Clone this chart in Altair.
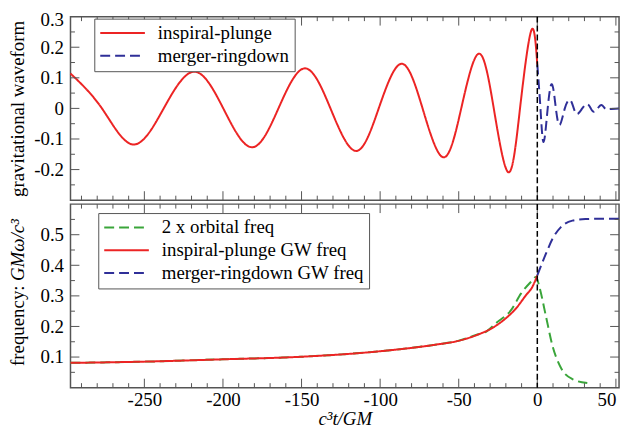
import altair as alt
import pandas as pd

# ---------------- data ----------------
# top panel: gravitational waveform
insp_t = [-297, -277, -257.2, -237.7, -218.3, -199.8, -181.6, -164.7, -147.9, -131.6,
          -115.4, -100.9, -86.4, -73.0, -59.7, -48.4, -37.2, -27.7, -18.3, -11.0, -3.8, 0]
insp_h = [0.114, 0, -0.118, 0, 0.120, 0, -0.127, 0, 0.131, 0,
          -0.139, 0, 0.146, 0, -0.160, 0, 0.179, 0, -0.209, 0, 0.255, 0.143]
ring_t = [0, 2.0, 4.0, 6.6, 9.3, 11.8, 14.3, 17.5, 20.8, 23.2, 25.5, 28.6, 31.8, 34.0,
          36.0, 38.4, 40.8, 43.0, 45.4, 52]
ring_h = [0.143, 0, -0.110, 0, 0.079, 0, -0.054, 0, 0.028, 0, -0.018, 0, 0.014, 0,
          -0.011, 0, 0.011, 0, -0.002, 0]

# bottom panel: frequency
orb_t = [-297, -250, -200, -150, -100, -64, -51, -39, -32, -26, -16.6, -10.3, -4, -0.8,
         1.3, 5.5, 9.7, 15, 22.3, 31.8]
orb_f = [0.081, 0.085, 0.0926, 0.101, 0.119, 0.141, 0.152, 0.172, 0.185, 0.212, 0.254,
         0.308, 0.346, 0.362, 0.33, 0.233, 0.136, 0.065, 0.028, 0.015]
ip_t = [-297, -250, -200, -150, -100, -64, -51, -39, -28, -20, -13.4, -7.1, -3.3, 0]
ip_f = [0.081, 0.085, 0.0926, 0.101, 0.119, 0.141, 0.152, 0.171, 0.197, 0.227, 0.26,
        0.303, 0.328, 0.367]
mr_t = [0, 5.5, 9.7, 15, 22.3, 30.7, 40, 52]
mr_f = [0.367, 0.438, 0.487, 0.525, 0.546, 0.551, 0.552, 0.552]

top_series = ["inspiral-plunge", "merger-ringdown"]
bot_series = ["2 x orbital freq", "inspiral-plunge GW freq", "merger-ringdown GW freq"]

x_major = [-250, -200, -150, -100, -50, 0, 50]
x_minor = [-290, -280, -270, -260, -240, -230, -220, -210, -190, -180, -170, -160,
           -140, -130, -120, -110, -90, -80, -70, -60, -40, -30, -20, -10, 10, 20, 30, 40]
top_y_major = [-0.2, -0.1, 0, 0.1, 0.2]
top_y_minor = [-0.25, -0.15, -0.05, 0.05, 0.15, 0.25]
top_y_labels = [-0.2, -0.1, 0.0, 0.1, 0.2, 0.3]
bot_y_major = [0.1, 0.2, 0.3, 0.4, 0.5]
bot_y_minor = [0.05, 0.15, 0.25, 0.35, 0.45, 0.55]
vline_t = [0]
freq_title_plain = ["frequency:"]
freq_title_italic = ["GM\u03c9/c\u00b3"]

# ---------------- style ----------------
W, H = 553, 185
RED, BLUE, GREEN = "#ec2424", "#2f2f98", "#3aa53a"
FRAME = "#555555"
FONT = "Liberation Serif"
FS = 19
MAJ, MIN = 9, 4.5
Y_EXT, Y_TPAD = 38, 5

xs = alt.Scale(domain=[-297, 52], nice=False, zero=False)
ys_top = alt.Scale(domain=[-0.3, 0.3], nice=False, zero=False)
ys_bot = alt.Scale(domain=[0, 0.6], nice=False, zero=False)

fix_minus = "replace(datum.label, '\u2212', '-')"


def y_axis(values, title, flush):
    kw = dict(values=values, format=".1~f", labelExpr=fix_minus, title=title,
              ticks=False, domain=False, grid=False, labelPadding=7,
              minExtent=Y_EXT, maxExtent=Y_EXT, titlePadding=Y_TPAD, labelOverlap=False)
    if flush:
        kw.update(labelFlush=True, labelFlushOffset=6)
    else:
        kw.update(labelFlush=False)
    return alt.Axis(**kw)


X_AXIS_BOTTOM = alt.Axis(values=x_major, format="d", labelExpr=fix_minus,
                         title="c\u00b3t/GM", titleFontStyle="italic", ticks=False,
                         domain=False, grid=False, labelPadding=3, titlePadding=0,
                         labelFlush=False, labelOverlap=False,
                         labelAlign={"condition": {"test": "datum.value >= 50",
                                                   "value": "right"},
                                     "value": "center"})


def tick_layers(yscale, y_major, y_minor, y_field, xaxis, yaxis):
    layers = []
    for vals, L in ((x_major, MAJ), (x_minor, MIN)):
        d = alt.Chart(pd.DataFrame({"t": vals})).mark_rule(color=FRAME, strokeWidth=1)
        xe = alt.X("t:Q", scale=xs, axis=xaxis)
        layers.append(d.encode(x=xe, y=alt.value(H), y2=alt.value(H - L)))
        layers.append(d.encode(x=xe, y=alt.value(0), y2=alt.value(L)))
    for vals, L in ((y_major, MAJ), (y_minor, MIN)):
        d = alt.Chart(pd.DataFrame({y_field: vals})).mark_rule(color=FRAME, strokeWidth=1)
        ye = alt.Y(f"{y_field}:Q", scale=yscale, axis=yaxis)
        layers.append(d.encode(y=ye, x=alt.value(0), x2=alt.value(L)))
        layers.append(d.encode(y=ye, x=alt.value(W), x2=alt.value(W - L)))
    return layers


def legend(x, y):
    return alt.Legend(title=None, orient="none", legendX=x, legendY=y,
                      symbolType="stroke", symbolSize=2025, symbolStrokeWidth=2,
                      clipHeight=19, labelOffset=12, rowPadding=3, padding=5,
                      labelLimit=400,
                      strokeColor=FRAME, fillColor="white",
                      labelFont=FONT, labelFontSize=FS, labelColor="black")


def vline(xaxis):
    return alt.Chart(pd.DataFrame({"t": vline_t})).mark_rule(
        color="black", strokeDash=[6, 3], strokeWidth=1.5
    ).encode(x=alt.X("t:Q", scale=xs, axis=xaxis))


# ---------------- top panel ----------------
top_yaxis = y_axis(top_y_labels, "gravitational waveform", True)
wave = pd.concat([
    pd.DataFrame({"t": insp_t, "h": insp_h, "series": top_series[0]}),
    pd.DataFrame({"t": ring_t, "h": ring_h, "series": top_series[1]}),
])
top_leg = legend(24, 2)
top_lines = alt.Chart(wave).mark_line(interpolate="natural", strokeWidth=2).encode(
    x=alt.X("t:Q", scale=xs, axis=None),
    y=alt.Y("h:Q", scale=ys_top, axis=top_yaxis),
    color=alt.Color("series:N", scale=alt.Scale(domain=top_series, range=[RED, BLUE]),
                    legend=top_leg),
    strokeDash=alt.StrokeDash("series:N",
                              scale=alt.Scale(domain=top_series, range=[[1, 0], [10, 5]]),
                              legend=top_leg),
)
top = alt.layer(top_lines,
                *tick_layers(ys_top, top_y_major, top_y_minor, "h", None, top_yaxis),
                vline(None)).properties(width=W, height=H)

# ---------------- bottom panel ----------------
bot_yaxis = y_axis(bot_y_major, None, False)
freq = pd.concat([
    pd.DataFrame({"t": orb_t, "f": orb_f, "series": bot_series[0]}),
    pd.DataFrame({"t": ip_t, "f": ip_f, "series": bot_series[1]}),
    pd.DataFrame({"t": mr_t, "f": mr_f, "series": bot_series[2]}),
])
bot_leg = legend(28, 9)
bot_lines = alt.Chart(freq).mark_line(interpolate="monotone", strokeWidth=2).encode(
    x=alt.X("t:Q", scale=xs, axis=X_AXIS_BOTTOM),
    y=alt.Y("f:Q", scale=ys_bot, axis=bot_yaxis),
    color=alt.Color("series:N",
                    scale=alt.Scale(domain=bot_series, range=[GREEN, RED, BLUE]),
                    legend=bot_leg),
    strokeDash=alt.StrokeDash("series:N",
                              scale=alt.Scale(domain=bot_series,
                                              range=[[10, 5], [1, 0], [10, 5]]),
                              legend=bot_leg),
)

# y-axis title of the bottom panel: upright "frequency:" + italic "GMω/c³"
title_x = -(Y_EXT + Y_TPAD)
title_plain = alt.Chart(pd.DataFrame({"s": freq_title_plain})).mark_text(
    angle=270, align="right", baseline="bottom", font=FONT, fontSize=FS, color="black"
).encode(text="s:N", x=alt.value(title_x), y=alt.value(82))
title_ital = alt.Chart(pd.DataFrame({"s": freq_title_italic})).mark_text(
    angle=270, align="left", baseline="bottom", font=FONT, fontSize=FS,
    fontStyle="italic", color="black"
).encode(text="s:N", x=alt.value(title_x), y=alt.value(77.5))

bottom = alt.layer(bot_lines,
                   *tick_layers(ys_bot, bot_y_major, bot_y_minor, "f", X_AXIS_BOTTOM, bot_yaxis),
                   vline(X_AXIS_BOTTOM), title_plain, title_ital).properties(width=W, height=H)

chart = alt.vconcat(top, bottom, spacing=0).resolve_scale(
    color="independent", strokeDash="independent"
).resolve_legend(
    color="independent", strokeDash="independent"
).properties(
    padding={"left": 0, "top": 0, "right": 0, "bottom": 0}
).configure_view(
    stroke=FRAME, strokeWidth=1.5
).configure_axis(
    labelFont=FONT, titleFont=FONT, labelFontSize=FS, titleFontSize=FS,
    labelColor="black", titleColor="black", titleFontWeight="normal",
    labelOverlap=False
).configure_legend(
    labelFont=FONT, labelFontSize=FS
)

chart.save("out.html", embed_options={"renderer": "svg", "actions": False})
